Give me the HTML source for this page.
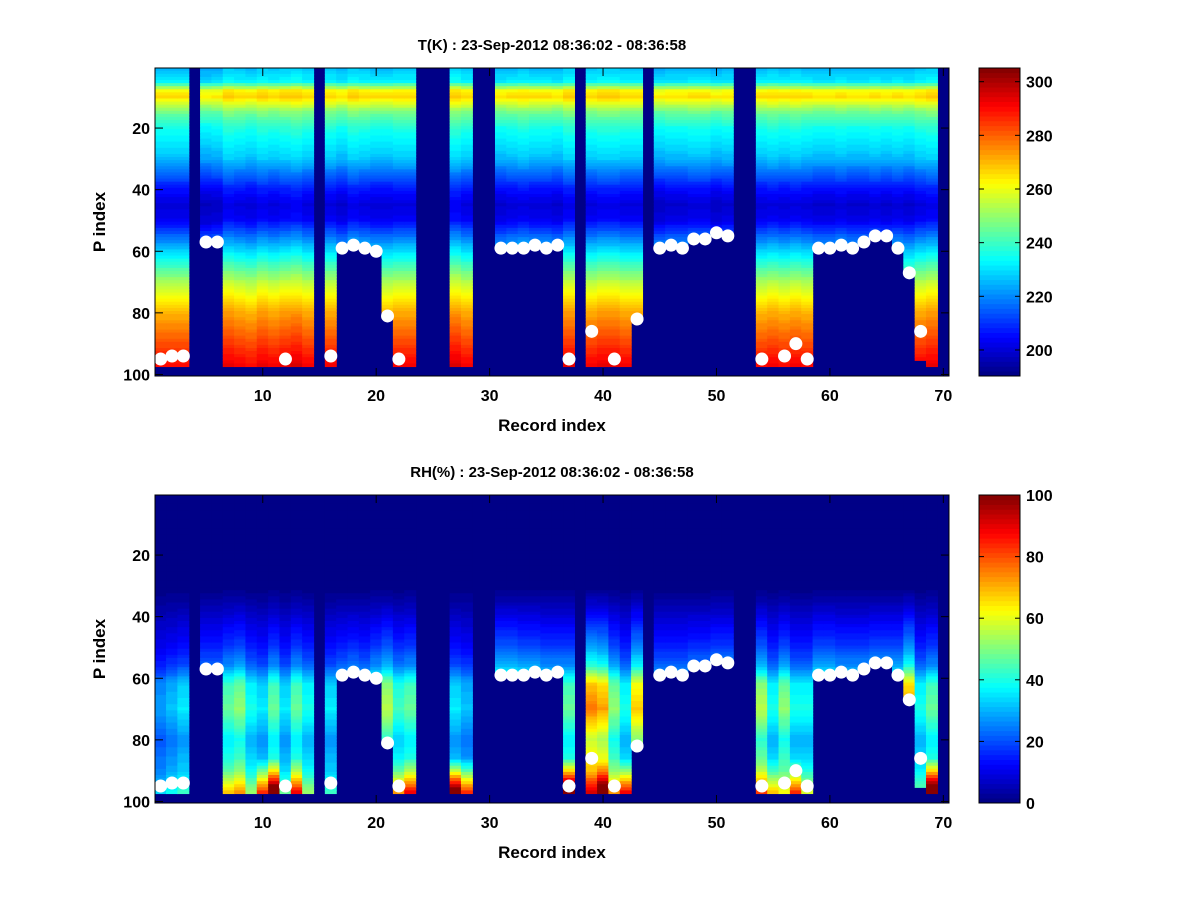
<!DOCTYPE html>
<html><head><meta charset="utf-8">
<style>
html,body{margin:0;padding:0;background:#fff;}
svg{display:block;font-family:"Liberation Sans",Arial,sans-serif;font-weight:bold;}
</style></head>
<body>
<svg id="fig" width="1200" height="900" viewBox="0 0 1200 900" xmlns="http://www.w3.org/2000/svg">
<rect x="0" y="0" width="1200" height="900" fill="#fff"/>
<g id="top"></g>
<g id="bot"></g>
</svg>
<script>
// ---- data ----
const records = 70;
const levels = 100;
// column status: 0 = missing
const valid = [1,1,1,0,1,1,1,1,1,1, 1,1,1,1,0,1,1,1,1,1, 1,1,1,0,0,0,1,1,0,0, 1,1,1,1,1,1,1,0,1,1, 1,1,1,0,1,1,1,1,1,1, 1,0,0,1,1,1,1,1,1,1, 1,1,1,1,1,1,1,1,1,0];
// surface marker index (0 = none)
const surfDot = [95,94,94,0,57,57,0,0,0,0, 0,95,0,0,0,94,59,58,59,60, 81,95,0,0,0,0,0,0,0,0, 59,59,59,58,59,58,95,0,86,0, 95,0,82,0,59,58,59,56,56,54, 55,0,0,95,0,94,90,95,59,59, 58,59,57,55,55,59,67,86,0,0];
// last valid level of data
const dataBottom = [97,97,97,0,57,57,97,97,97,97, 97,97,97,97,0,97,59,58,59,60, 81,97,97,0,0,0,97,97,0,0, 59,59,59,58,59,58,97,0,97,97, 97,97,82,0,59,58,59,56,56,54, 55,0,0,97,97,97,97,97,59,59, 58,59,57,55,55,59,67,95,97,0];
// temperature profile
const tLevels = [1,5,8,10,12,15,20,30,40,45,50,60,70,80,90,97];
const tValues = [226,232,262,266,258,246,236,226,206,200,203,228,252,270,282,290];
const tOffset = [0,0,0,0,-3,-2,2,1,0,2, 1,2,3,1,0,1,-1,2,1,0, 0,1,1,0,0,0,3,1,0,0, -1,0,1,0,0,-1,2,0,1,2, 2,1,1,0,-2,-1,-1,0,0,-2, -1,0,0,0,1,0,1,0,-1,-1, 0,-1,-1,0,-1,0,-1,1,2,0];
// RH profile
const rhLevels = [1,30,36,42,50,56,62,70,80,90,97];
const rhValues = [0,0,4,9,15,22,36,40,30,36,48];
const rhMult = [0.7,0.8,0.9,0,1.0,1.0,1.2,1.3,1.0,0.9, 1.2,0.9,1.2,1.0,0,0.9,1.0,1.1,1.0,1.2, 1.4,1.1,1.2,0,0,0,0.9,0.8,0,0, 1.4,1.4,1.3,1.3,1.2,1.2,1.2,0,1.9,1.8, 1.3,1.0,1.7,0,1.0,1.0,1.0,1.1,1.1,1.2, 1.2,0,0,1.4,1.0,1.3,1.0,1.0,1.3,1.3, 1.2,1.2,1.2,1.3,1.3,1.3,1.8,1.0,1.2,0];
const rhBottom = [0,0,0,0,0,0,10,10,5,40, 55,5,30,5,0,0,0,0,0,0, 0,20,30,0,0,0,65,45,0,0, 0,0,0,0,0,0,60,0,0,25, 10,40,0,0,0,0,0,0,0,0, 0,0,0,15,20,0,35,10,0,0, 0,0,0,0,0,0,0,0,60,0];
const tTicksCb = [200,220,240,260,280,300];
const rhTicksCb = [0,20,40,60,80,100];
const xTicks = [10,20,30,40,50,60,70];
const yTicks = [20,40,60,80,100];

// ---- helpers ----
function interp(xs, ys, x){
  if (x<=xs[0]) return ys[0];
  for (let i=1;i<xs.length;i++){ if (x<=xs[i]){ const t=(x-xs[i-1])/(xs[i]-xs[i-1]); return ys[i-1]+t*(ys[i]-ys[i-1]); } }
  return ys[ys.length-1];
}
function jet(v){ // v in 0..1, 64 levels
  v = Math.max(0,Math.min(1,v));
  v = (Math.floor(v*63.999)+0.5)/64;
  const r=Math.max(0,Math.min(1,1.5-Math.abs(4*v-3)));
  const g=Math.max(0,Math.min(1,1.5-Math.abs(4*v-2)));
  const b=Math.max(0,Math.min(1,1.5-Math.abs(4*v-1)));
  return `rgb(${Math.round(r*255)},${Math.round(g*255)},${Math.round(b*255)})`;
}
const NS='http://www.w3.org/2000/svg';
function el(tag, attrs, parent){ const e=document.createElementNS(NS,tag); for (const k in attrs) e.setAttribute(k,attrs[k]); parent.appendChild(e); return e; }

const PX0=155, PX1=949, CBX0=979, CBX1=1020;
function drawPanel(g, y0, y1, vmin, vmax, valueFn, title, cbTicks){
  const xs = c => PX0 + (c-0.5)*(PX1-PX0)/records;
  const ys = p => y0 + (p-0.5)*(y1-y0)/levels;
  const bg = el('rect',{x:PX0,y:y0,width:PX1-PX0,height:y1-y0,fill:jet(0)},g);
  
  
  for (let c=1;c<=records;c++){
    if (!valid[c-1]) continue;
    for (let p=1;p<=dataBottom[c-1];p++){
      const v = valueFn(c,p);
      const r = el('rect',{x:xs(c-0.5)-0.3,y:ys(p-0.5)-0.3,width:xs(c+0.5)-xs(c-0.5)+0.6,height:ys(p+0.5)-ys(p-0.5)+0.6,fill:jet((v-vmin)/(vmax-vmin))},g);
      
      
    }
  }
  for (let c=1;c<=records;c++){
    const d = surfDot[c-1];
    if (!d) continue;
    const m = el('circle',{cx:xs(c),cy:ys(d),r:6.5,fill:'#fff'},g);
    
    
  }
  const fr = el('rect',{x:PX0,y:y0,width:PX1-PX0,height:y1-y0,fill:'none',stroke:'#000','stroke-width':1},g);
  
  
  xTicks.forEach(t=>{
    const x = xs(t);
    el('line',{x1:x,y1:y1,x2:x,y2:y1-8,stroke:'#000'},g);
    el('line',{x1:x,y1:y0,x2:x,y2:y0+8,stroke:'#000'},g);
    const tx = el('text',{x:x,y:y1+25,'text-anchor':'middle','font-size':16},g);
    tx.textContent = t;
    
    
  });
  yTicks.forEach(t=>{
    const y = ys(t);
    el('line',{x1:PX0,y1:y,x2:PX0+8,y2:y,stroke:'#000'},g);
    el('line',{x1:PX1,y1:y,x2:PX1-8,y2:y,stroke:'#000'},g);
    const tx = el('text',{x:PX0-5,y:y+6,'text-anchor':'end','font-size':16},g);
    tx.textContent = t;
    
    
  });
  const xl = el('text',{x:(PX0+PX1)/2,y:y1+55,'text-anchor':'middle','font-size':17},g);
  xl.textContent='Record index';
  
  
  const yl = el('text',{x:0,y:0,'text-anchor':'middle','font-size':17,transform:`translate(105,${(y0+y1)/2}) rotate(-90)`},g);
  yl.textContent='P index';
  
  
  const tt = el('text',{x:(PX0+PX1)/2,y:y0-18,'text-anchor':'middle','font-size':15},g);
  tt.textContent=title;
  
  
  // colorbar
  const n=64, h=(y1-y0)/n;
  for (let i=0;i<n;i++){
    const s = el('rect',{x:CBX0,y:y1-(i+1)*h-0.3,width:CBX1-CBX0,height:h+0.6,fill:jet((i+0.5)/n)},g);
    
    
  }
  const cf = el('rect',{x:CBX0,y:y0,width:CBX1-CBX0,height:y1-y0,fill:'none',stroke:'#000'},g);
  
  
  cbTicks.forEach(t=>{
    const y = y1 - (t-vmin)/(vmax-vmin)*(y1-y0);
    el('line',{x1:CBX1,y1:y,x2:CBX1-5,y2:y,stroke:'#000'},g);
    el('line',{x1:CBX0,y1:y,x2:CBX0+5,y2:y,stroke:'#000'},g);
    const tx = el('text',{x:CBX1+6,y:y+6,'font-size':16},g);
    tx.textContent=t;
    
    
  });
}

drawPanel(document.getElementById('top'), 68, 376, 190.3, 305.1,
  (c,p)=> interp(tLevels,tValues,p) + tOffset[c-1]*(p>50?1.5:1),
  'T(K) : 23-Sep-2012 08:36:02 - 08:36:58', tTicksCb);
drawPanel(document.getElementById('bot'), 495, 803, 0, 100,
  (c,p)=> Math.min(100, interp(rhLevels,rhValues,p)*rhMult[c-1] + rhBottom[c-1]*Math.max(0,(p-86)/11)),
  'RH(%) : 23-Sep-2012 08:36:02 - 08:36:58', rhTicksCb);
</script>
</body></html>
